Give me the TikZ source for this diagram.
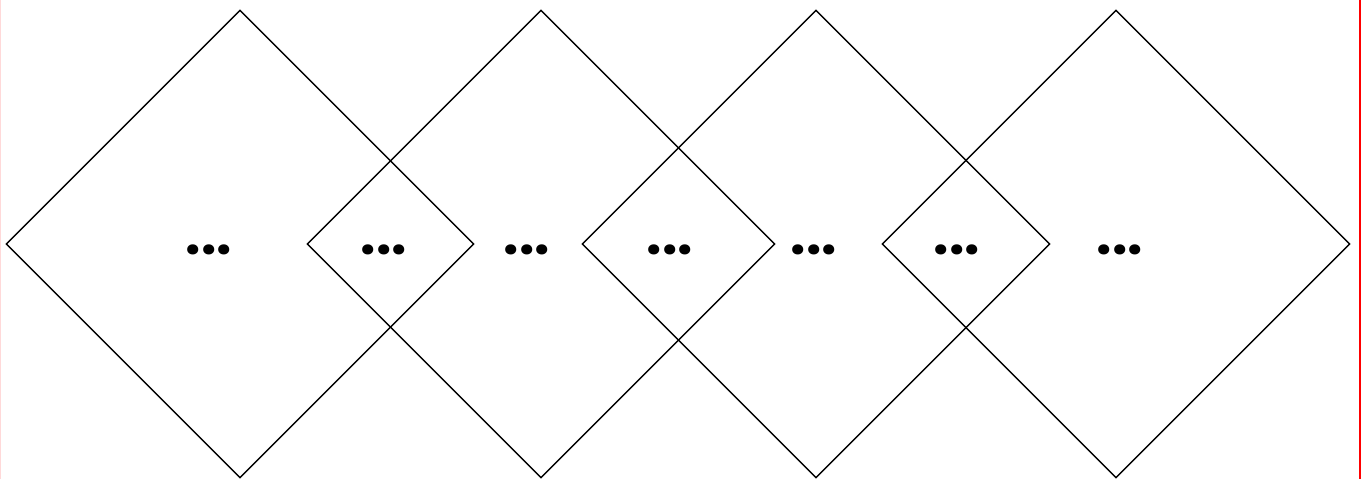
\documentclass[tikz,border=0pt]{standalone}
\usepackage{fontspec}
\newfontfamily\dotfont{Poppins}
\usetikzlibrary{shapes.geometric}

\begin{document}
\begin{tikzpicture}[x=0.02cm, y=-0.02cm,
    diam/.style={draw, diamond, aspect=1, inner sep=0pt, minimum width=9.36cm, minimum height=9.36cm, line width=0.85pt},
    dots/.style={font=\dotfont\fontsize{31}{36}\selectfont\bfseries, inner sep=0pt}
  ]
  \useasboundingbox (0,0) rectangle (1362,479);
  % frame edges
  \draw[red!15, line width=0.8pt] (0.5,0) -- (0.5,479);
  \draw[red, line width=1.2pt] (1360,0) -- (1360,479);

  % diamonds
  \node[diam] (d1) at (240,244) {};
  \node[diam] (d2) at (541,244) {};
  \node[diam] (d3) at (816,244) {};
  \node[diam] (d4) at (1116,244) {};

  % dots
  \node[dots] (t1) at (209,249.5) {...};
  \node[dots] (t2) at (384,249.5) {...};
  \node[dots] (t3) at (527,249.5) {...};
  \node[dots] (t4) at (670,249.5) {...};
  \node[dots] (t5) at (814,249.5) {...};
  \node[dots] (t6) at (957,249.5) {...};
  \node[dots] (t7) at (1120,249.5) {...};
\end{tikzpicture}
\end{document}
